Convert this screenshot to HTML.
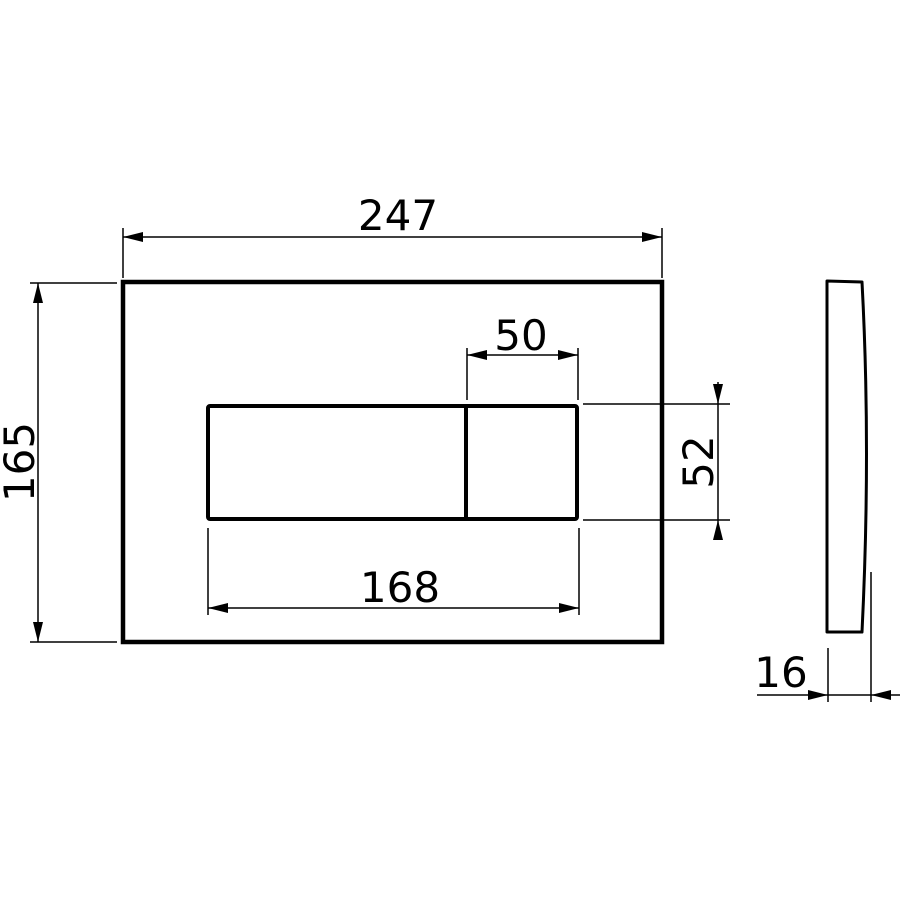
<!DOCTYPE html>
<html><head><style>body{margin:0;background:#fff}svg{display:block}text{font-family:"DejaVu Sans","Liberation Sans",sans-serif;font-size:42px;fill:#000}</style></head>
<body>
<svg width="900" height="900" viewBox="0 0 900 900">
<defs>
<marker id="a" viewBox="0 0 20 10" refX="20" refY="5" markerWidth="20" markerHeight="10" markerUnits="userSpaceOnUse" orient="auto-start-reverse"><path d="M0,0L20,5L0,10z"/></marker>
</defs>
<g fill="none" stroke="#000">
<rect x="123" y="282" width="539" height="360" stroke-width="4.5"/>
<rect x="208" y="406" width="369" height="113" rx="2" stroke-width="4"/>
<line x1="466" y1="406" x2="466" y2="519" stroke-width="4"/>
<path d="M827,281 L862,282 Q871,450 862,632 L827,632 Z" stroke-width="3" stroke-linejoin="round"/>
<g stroke-width="1.5">
<line x1="123" y1="228" x2="123" y2="278"/><line x1="662" y1="228" x2="662" y2="278"/>
<line x1="123" y1="237" x2="662" y2="237" marker-start="url(#a)" marker-end="url(#a)"/>
<line x1="30" y1="283" x2="117" y2="283"/><line x1="30" y1="642" x2="117" y2="642"/>
<line x1="38" y1="283" x2="38" y2="642" marker-start="url(#a)" marker-end="url(#a)"/>
<line x1="467" y1="348" x2="467" y2="400"/><line x1="578" y1="348" x2="578" y2="400"/>
<line x1="467" y1="355" x2="578" y2="355" marker-start="url(#a)" marker-end="url(#a)"/>
<line x1="583" y1="404" x2="730" y2="404"/><line x1="583" y1="520" x2="730" y2="520"/>
<line x1="718" y1="382" x2="718" y2="404" marker-end="url(#a)"/>
<line x1="718" y1="404" x2="718" y2="520"/>
<line x1="718" y1="540" x2="718" y2="520" marker-end="url(#a)"/>
<line x1="208" y1="528" x2="208" y2="615"/><line x1="579" y1="528" x2="579" y2="615"/>
<line x1="208" y1="608" x2="579" y2="608" marker-start="url(#a)" marker-end="url(#a)"/>
<line x1="828" y1="648" x2="828" y2="702"/><line x1="871" y1="572" x2="871" y2="702"/>
<line x1="757" y1="695" x2="828" y2="695" marker-end="url(#a)"/>
<line x1="828" y1="695" x2="871" y2="695"/>
<line x1="900" y1="695" x2="871" y2="695" marker-end="url(#a)"/>
</g></g>
<text x="398" y="230" text-anchor="middle">247</text>
<text x="521" y="350" text-anchor="middle">50</text>
<text x="400" y="602" text-anchor="middle">168</text>
<text x="781" y="687" text-anchor="middle">16</text>
<text transform="translate(34,462) rotate(-90)" text-anchor="middle">165</text>
<text transform="translate(713,462) rotate(-90)" text-anchor="middle">52</text>
</svg>
</body></html>
